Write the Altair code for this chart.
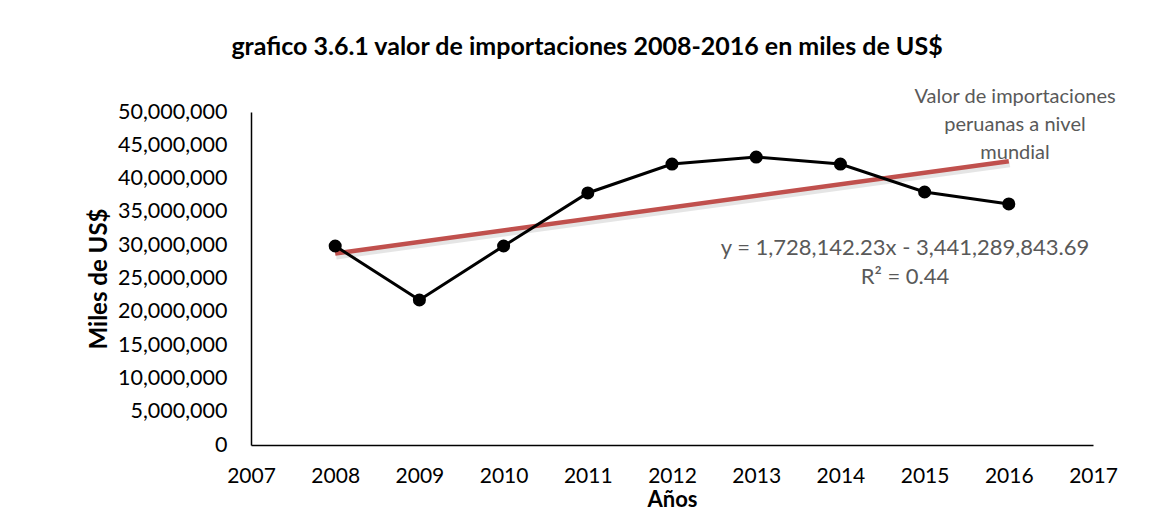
import altair as alt
import pandas as pd

years = [2008, 2009, 2010, 2011, 2012, 2013, 2014, 2015, 2016]
values = [29_880_000, 21_770_000, 29_880_000, 37_840_000, 42_190_000,
          43_240_000, 42_190_000, 37_990_000, 36_190_000]
x_ticks = [2007, 2008, 2009, 2010, 2011, 2012, 2013, 2014, 2015, 2016, 2017]
y_ticks = [0, 5_000_000, 10_000_000, 15_000_000, 20_000_000, 25_000_000,
           30_000_000, 35_000_000, 40_000_000, 45_000_000, 50_000_000]

title_text = "grafico 3.6.1 valor de importaciones 2008-2016 en miles de US$"
legend_text = ["Valor de importaciones", "peruanas a nivel", "mundial"]
equation_text = ["y = 1,728,142.23x - 3,441,289,843.69", "R² = 0.44"]

df = pd.DataFrame({"year": years, "value": values})

FONT = "Lato"
W, H = 842, 333

x = alt.X("year:Q", scale=alt.Scale(domain=[2007, 2017], nice=False, zero=False),
          axis=alt.Axis(values=x_ticks, format="d", title="Años", labelPadding=20,
                        titlePadding=3, labelFlush=False, labelFontSize=21,
                        titleFontSize=22))
y = alt.Y("value:Q", scale=alt.Scale(domain=[0, 50_000_000], nice=False),
          axis=alt.Axis(values=y_ticks, format=",d", title="Miles de US$",
                        labelPadding=24, titlePadding=6, labelFontSize=21.5,
                        titleFontSize=24))

base = alt.Chart(df)

line = base.mark_line(color="black", strokeWidth=3).encode(x=x, y=y)
pts = base.mark_circle(color="black", size=170, opacity=1).encode(x=x, y=y)

reg = base.transform_regression("year", "value", extent=[2008, 2016])
shadow = reg.mark_line(color="#000000", opacity=0.1, strokeWidth=6,
                       xOffset=1, yOffset=3).encode(x=x, y=y)
trend = reg.mark_line(color="#C0504D", strokeWidth=4.5).encode(x=x, y=y)

legend = alt.Chart(pd.DataFrame({"t": [legend_text]})).mark_text(
    font=FONT, fontSize=20, color="#595959", align="center", baseline="middle",
    lineHeight=28).encode(x=alt.value(764), y=alt.value(-15), text="t:N")

eq = alt.Chart(pd.DataFrame({"t": [equation_text]})).mark_text(
    font=FONT, fontSize=22, color="#595959", align="center", baseline="middle",
    lineHeight=29).encode(x=alt.value(654), y=alt.value(136), text="t:N")

chart = alt.layer(shadow, trend, line, pts, legend, eq).properties(
    width=W, height=H,
    background="white",
    title=alt.TitleParams(title_text, font=FONT, fontSize=25, fontWeight="bold",
                          color="#000000", anchor="middle", dx=-85, offset=27),
    autosize=alt.AutoSizeParams(type="none"),
    padding={"left": 243, "top": 104, "right": 55, "bottom": 68},
).configure_view(stroke=None).configure_axis(
    grid=False, ticks=False, tickSize=0, domainColor="#000000", domainWidth=1.5,
    labelFont=FONT, labelColor="#000000",
    titleFont=FONT, titleFontWeight="bold", titleColor="#000000",
)

chart.save("out.html", embed_options={"renderer": "svg", "actions": False})
